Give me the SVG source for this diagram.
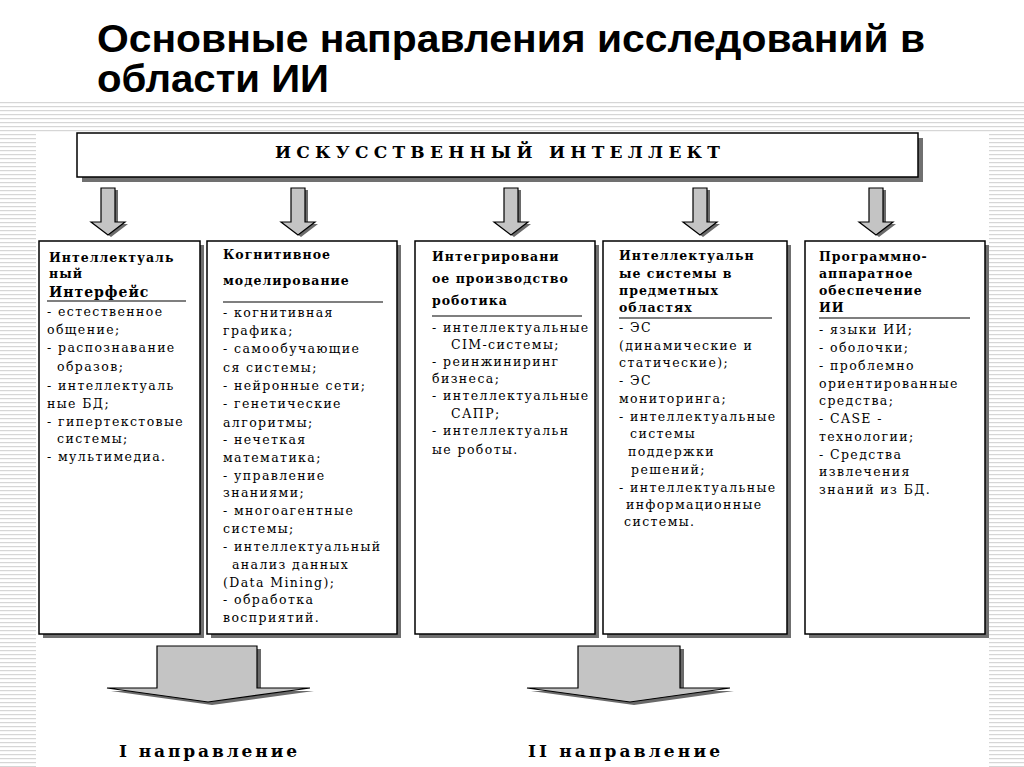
<svg xmlns="http://www.w3.org/2000/svg" width="1024" height="767" viewBox="0 0 1024 767">
  <defs>
    <pattern id="stripes" x="0" y="0" width="8" height="4" patternUnits="userSpaceOnUse">
      <rect x="0" y="0" width="8" height="4" fill="#ffffff"/>
      <rect x="0" y="2" width="8" height="1.2" fill="#d6d6d6"/>
    </pattern>
    <style>
      .box { fill: #ffffff; stroke: #000000; stroke-width: 1.5; }
      .shadow { fill: #707070; }
      .arrow { fill: #c4c4c4; stroke: #000000; stroke-width: 1.2; }
      .ashadow { fill: #6a6a6a; }
      .title { font-family: "Liberation Sans", Arial, sans-serif; font-weight: bold; font-size: 38px; fill: #000; }
      .h { font-family: "DejaVu Serif", "Liberation Serif", serif; font-weight: bold; font-size: 12.5px; letter-spacing: 1px; fill: #000; }
      .t { font-family: "DejaVu Serif", "Liberation Serif", serif; font-size: 12.5px; letter-spacing: 1.4px; fill: #000; }
      .big { font-family: "DejaVu Serif", "Liberation Serif", serif; font-weight: bold; font-size: 17px; fill: #000; }
      .sep { stroke: #000; stroke-width: 1.2; }
    </style>
  </defs>

  <!-- background -->
  <rect x="0" y="0" width="1024" height="767" fill="#ffffff"/>
  <rect x="0" y="100" width="1024" height="33" fill="url(#stripes)"/>
  <rect x="0" y="133" width="36" height="634" fill="url(#stripes)"/>
  <rect x="989" y="133" width="35" height="634" fill="url(#stripes)"/>

  <!-- title -->
  <g id="title">
    <text class="title" x="97" y="52" textLength="828" lengthAdjust="spacingAndGlyphs">Основные направления исследований в</text>
    <text class="title" x="97" y="92" textLength="232" lengthAdjust="spacingAndGlyphs">области ИИ</text>
  </g>

  <!-- top node -->
  <g id="ai">
    <rect class="shadow" x="82" y="138" width="841" height="44"/>
    <rect class="box" x="77" y="133" width="841" height="44"/>
    <text class="big" x="275" y="158" textLength="445" lengthAdjust="spacing">ИСКУССТВЕННЫЙ ИНТЕЛЛЕКТ</text>
  </g>

  <!-- connectors -->
  <g id="connectors">
    <g id="a1" transform="translate(108,0)">
      <path class="ashadow" d="M-4,190 H10 V224 H20 L3,237 L-14,224 H-4 Z"/>
      <path class="arrow" d="M-7,188 H7 V222 H17 L0,235 L-17,222 H-7 Z"/>
    </g>
    <g id="a2" transform="translate(298,0)">
      <path class="ashadow" d="M-4,190 H10 V224 H20 L3,237 L-14,224 H-4 Z"/>
      <path class="arrow" d="M-7,188 H7 V222 H17 L0,235 L-17,222 H-7 Z"/>
    </g>
    <g id="a3" transform="translate(511,0)">
      <path class="ashadow" d="M-4,190 H10 V224 H20 L3,237 L-14,224 H-4 Z"/>
      <path class="arrow" d="M-7,188 H7 V222 H17 L0,235 L-17,222 H-7 Z"/>
    </g>
    <g id="a4" transform="translate(700,0)">
      <path class="ashadow" d="M-4,190 H10 V224 H20 L3,237 L-14,224 H-4 Z"/>
      <path class="arrow" d="M-7,188 H7 V222 H17 L0,235 L-17,222 H-7 Z"/>
    </g>
    <g id="a5" transform="translate(876,0)">
      <path class="ashadow" d="M-4,190 H10 V224 H20 L3,237 L-14,224 H-4 Z"/>
      <path class="arrow" d="M-7,188 H7 V222 H17 L0,235 L-17,222 H-7 Z"/>
    </g>
    <g id="big1">
      <path class="ashadow" d="M161,649 H261 V691 H314 L212,705 L111,691 H161 Z"/>
      <path class="arrow" d="M157,646 H257 V688 H310 L208,702 L107,688 H157 Z"/>
    </g>
    <g id="big2">
      <path class="ashadow" d="M582,649 H684 V691 H734 L634,705 L531,691 H582 Z"/>
      <path class="arrow" d="M578,646 H680 V688 H730 L630,702 L527,688 H578 Z"/>
    </g>
  </g>

  <!-- column 1 -->
  <g id="col1">
    <rect class="shadow" x="43" y="245" width="161" height="393"/>
    <rect class="box" x="39" y="241" width="161" height="393"/>
    <text class="h" x="49" y="262">Интеллектуаль</text>
    <text class="h" x="49" y="278">ный</text>
    <text class="h" x="49" y="297" style="font-size:14px">Интерфейс</text>
    <line class="sep" x1="47" y1="301" x2="186" y2="301"/>
    <text class="t" x="47" y="316">- естественное</text>
    <text class="t" x="47" y="334">общение;</text>
    <text class="t" x="47" y="352">- распознавание</text>
    <text class="t" x="57" y="371">образов;</text>
    <text class="t" x="47" y="390">- интеллектуаль</text>
    <text class="t" x="47" y="408">ные  БД;</text>
    <text class="t" x="47" y="426">- гипертекстовые</text>
    <text class="t" x="57" y="443">системы;</text>
    <text class="t" x="47" y="461">- мультимедиа.</text>
  </g>

  <!-- column 2 -->
  <g id="col2">
    <rect class="shadow" x="211" y="245" width="190" height="393"/>
    <rect class="box" x="207" y="241" width="190" height="393"/>
    <text class="h" x="223" y="259">Когнитивное</text>
    <text class="h" x="223" y="285">моделирование</text>
    <line class="sep" x1="223" y1="302" x2="383" y2="302"/>
    <text class="t" x="223" y="317">- когнитивная</text>
    <text class="t" x="223" y="335">графика;</text>
    <text class="t" x="223" y="353">- самообучающие</text>
    <text class="t" x="223" y="372">ся системы;</text>
    <text class="t" x="223" y="390">- нейронные сети;</text>
    <text class="t" x="223" y="408">- генетические</text>
    <text class="t" x="223" y="427">алгоритмы;</text>
    <text class="t" x="223" y="444">- нечеткая</text>
    <text class="t" x="223" y="462">математика;</text>
    <text class="t" x="223" y="480">- управление</text>
    <text class="t" x="223" y="497">знаниями;</text>
    <text class="t" x="223" y="515">- многоагентные</text>
    <text class="t" x="223" y="533">системы;</text>
    <text class="t" x="223" y="551">- интеллектуальный</text>
    <text class="t" x="232" y="569">анализ данных</text>
    <text class="t" x="223" y="587">(Data Mining);</text>
    <text class="t" x="223" y="604">- обработка</text>
    <text class="t" x="223" y="622">восприятий.</text>
  </g>

  <!-- column 3 -->
  <g id="col3">
    <rect class="shadow" x="419" y="245" width="180" height="393"/>
    <rect class="box" x="415" y="241" width="180" height="393"/>
    <text class="h" x="432" y="261">Интегрировани</text>
    <text class="h" x="432" y="283">ое производство</text>
    <text class="h" x="432" y="305">роботика</text>
    <line class="sep" x1="432" y1="316" x2="582" y2="316"/>
    <text class="t" x="432" y="332">- интеллектуальные</text>
    <text class="t" x="451" y="349">CIM-системы;</text>
    <text class="t" x="432" y="366">- реинжиниринг</text>
    <text class="t" x="432" y="383">бизнеса;</text>
    <text class="t" x="432" y="400">- интеллектуальные</text>
    <text class="t" x="451" y="418">САПР;</text>
    <text class="t" x="432" y="435">- интеллектуальн</text>
    <text class="t" x="432" y="454">ые роботы.</text>
  </g>

  <!-- column 4 -->
  <g id="col4">
    <rect class="shadow" x="607" y="245" width="184" height="393"/>
    <rect class="box" x="603" y="241" width="184" height="393"/>
    <text class="h" x="619" y="260">Интеллектуальн</text>
    <text class="h" x="619" y="278">ые системы в</text>
    <text class="h" x="619" y="295">предметных</text>
    <text class="h" x="619" y="312">областях</text>
    <line class="sep" x1="619" y1="318" x2="772" y2="318"/>
    <text class="t" x="619" y="332">- ЭС</text>
    <text class="t" x="619" y="350">(динамические и</text>
    <text class="t" x="619" y="367">статические);</text>
    <text class="t" x="619" y="385">- ЭС</text>
    <text class="t" x="619" y="403">мониторинга;</text>
    <text class="t" x="619" y="421">- интеллектуальные</text>
    <text class="t" x="630" y="438">системы</text>
    <text class="t" x="628" y="456">поддержки</text>
    <text class="t" x="631" y="474">решений;</text>
    <text class="t" x="619" y="492">- интеллектуальные</text>
    <text class="t" x="626" y="509">информационные</text>
    <text class="t" x="624" y="526">системы.</text>
  </g>

  <!-- column 5 -->
  <g id="col5">
    <rect class="shadow" x="809" y="245" width="180" height="393"/>
    <rect class="box" x="805" y="241" width="180" height="393"/>
    <text class="h" x="819" y="261">Программно-</text>
    <text class="h" x="819" y="278">аппаратное</text>
    <text class="h" x="819" y="295">обеспечение</text>
    <text class="h" x="819" y="312">ИИ</text>
    <line class="sep" x1="819" y1="318" x2="970" y2="318"/>
    <text class="t" x="819" y="334">- языки ИИ;</text>
    <text class="t" x="819" y="352">- оболочки;</text>
    <text class="t" x="819" y="370">- проблемно</text>
    <text class="t" x="819" y="388">ориентированные</text>
    <text class="t" x="819" y="405">средства;</text>
    <text class="t" x="819" y="423">- CASE -</text>
    <text class="t" x="819" y="441">технологии;</text>
    <text class="t" x="819" y="459">- Средства</text>
    <text class="t" x="819" y="476">извлечения</text>
    <text class="t" x="819" y="494">знаний из БД.</text>
  </g>

  <!-- bottom labels -->
  <g id="dir1">
    <text class="big" x="119" y="757" textLength="178" lengthAdjust="spacing">I направление</text>
  </g>
  <g id="dir2">
    <text class="big" x="528" y="757" textLength="192" lengthAdjust="spacing">II направление</text>
  </g>
</svg>
